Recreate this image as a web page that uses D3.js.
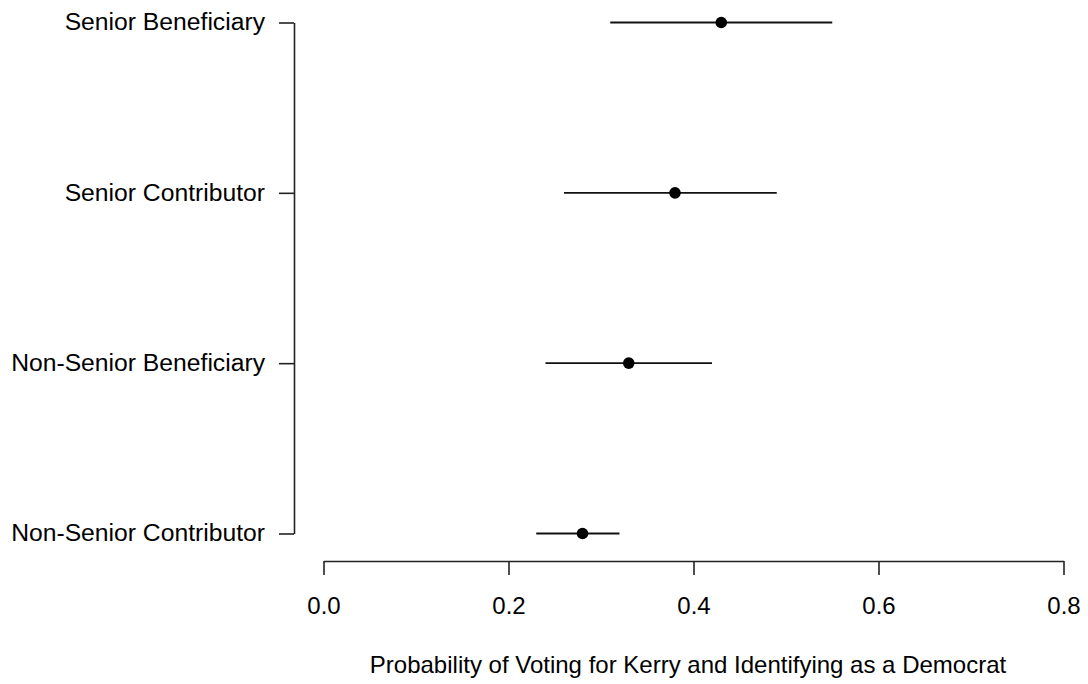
<!DOCTYPE html>
<html><head><meta charset="utf-8">
<script src="https://cdn.jsdelivr.net/npm/d3@7"></script>
<style>html,body{margin:0;padding:0;background:#fff;}svg{display:block;}</style>
</head><body>
<script>
const categories = ["Non-Senior Contributor", "Non-Senior Beneficiary", "Senior Contributor", "Senior Beneficiary"];
const estimates = [0.28, 0.33, 0.38, 0.43];
const lower = [0.23, 0.24, 0.26, 0.31];
const upper = [0.32, 0.42, 0.49, 0.55];
const xTicks = [0.0, 0.2, 0.4, 0.6, 0.8];
const xTitle = "Probability of Voting for Kerry and Identifying as a Democrat";

const W = 1088, H = 684;
const svg = d3.select("body").append("svg").attr("width", W).attr("height", H);
const font = "Liberation Sans, Arial, Helvetica, sans-serif";

const x = d3.scaleLinear().domain([0, 0.8]).range([323.5, 1063.5]);
const y = d3.scaleLinear().domain([1, 4]).range([533.5, 22.5]);

// x axis
const xAxis = d3.axisBottom(x).tickValues(xTicks).tickFormat(d3.format(".1f")).tickSize(14).tickPadding(22).tickSizeOuter(0);
const gx = svg.append("g").attr("transform", "translate(0,561)").call(xAxis);
gx.select(".domain").attr("stroke", "#222").attr("stroke-width", 1.6);
gx.selectAll(".tick line").attr("stroke", "#222").attr("stroke-width", 1.6);
gx.selectAll(".tick text").attr("font-family", font).attr("font-size", 24).attr("fill", "#000");

// y axis
const yAxis = d3.axisLeft(y).tickValues([1, 2, 3, 4]).tickFormat(d => categories[d - 1]).tickSize(15).tickPadding(14).tickSizeOuter(0);
const gy = svg.append("g").attr("transform", "translate(294,0)").call(yAxis);
gy.select(".domain").attr("stroke", "#222").attr("stroke-width", 1.6);
gy.selectAll(".tick line").attr("stroke", "#222").attr("stroke-width", 1.6);
gy.selectAll(".tick text").attr("font-family", font).attr("font-size", 24.7).attr("fill", "#000").attr("dy", "0.3em");

// CI lines
const idx = d3.range(categories.length);
svg.append("g").selectAll("line").data(idx).join("line")
  .attr("x1", i => x(lower[i])).attr("x2", i => x(upper[i]))
  .attr("y1", i => y(i + 1)).attr("y2", i => y(i + 1))
  .attr("stroke", "#111").attr("stroke-width", 1.8);

// points
svg.append("g").selectAll("circle").data(idx).join("circle")
  .attr("cx", i => x(estimates[i])).attr("cy", i => y(i + 1)).attr("r", 5.8).attr("fill", "#000");

// x title
svg.append("text").attr("x", 688).attr("y", 673).attr("text-anchor", "middle")
  .attr("font-family", font).attr("font-size", 24).attr("fill", "#000").text(xTitle);
</script>
</body></html>
